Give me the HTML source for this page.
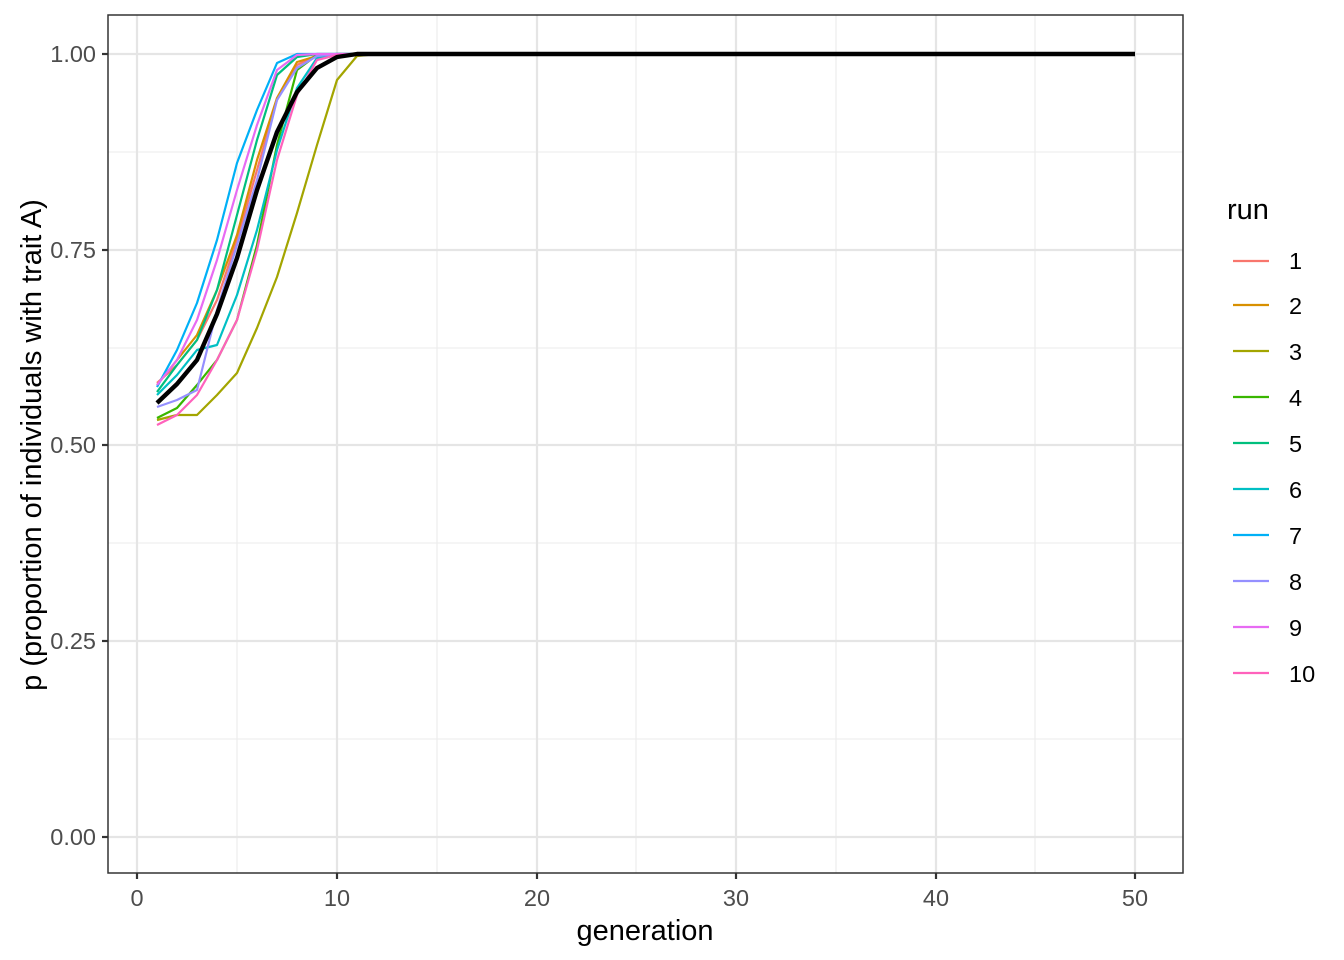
<!DOCTYPE html>
<html><head><meta charset="utf-8"><style>body{margin:0;background:#fff}svg{display:block}text{font-family:"Liberation Sans",sans-serif}</style></head><body>
<svg width="1344" height="960" xmlns="http://www.w3.org/2000/svg">
<rect width="1344" height="960" fill="#fff"/>
<g stroke="#ebebeb" stroke-width="1.1">
<line x1="108" x2="1183" y1="152" y2="152"/><line x1="108" x2="1183" y1="348" y2="348"/><line x1="108" x2="1183" y1="543" y2="543"/><line x1="108" x2="1183" y1="739" y2="739"/>
<line y1="15" y2="873" x1="237" x2="237"/><line y1="15" y2="873" x1="437" x2="437"/><line y1="15" y2="873" x1="636" x2="636"/><line y1="15" y2="873" x1="836" x2="836"/><line y1="15" y2="873" x1="1035" x2="1035"/>
</g>
<g stroke="#e5e5e5" stroke-width="2.2">
<line x1="108" x2="1183" y1="54" y2="54"/><line x1="108" x2="1183" y1="250" y2="250"/><line x1="108" x2="1183" y1="445" y2="445"/><line x1="108" x2="1183" y1="641" y2="641"/><line x1="108" x2="1183" y1="837" y2="837"/>
<line y1="15" y2="873" x1="137" x2="137"/><line y1="15" y2="873" x1="337" x2="337"/><line y1="15" y2="873" x1="537" x2="537"/><line y1="15" y2="873" x1="736" x2="736"/><line y1="15" y2="873" x1="936" x2="936"/><line y1="15" y2="873" x1="1135" x2="1135"/>
</g>
<g fill="none" stroke-width="2.2" stroke-linejoin="round">
<polyline stroke="#F8766D" points="157,383 177,365 197,340 217,300 237,240 257,170 277,100 297,65 317,55 337,54 1135,54"/>
<polyline stroke="#D89000" points="157,385 177,360 197,335 217,290 237,235 257,160 277,98 297,62 317,56 337,54 1135,54"/>
<polyline stroke="#A3A500" points="157,420 177,415 197,415 217,395 237,373 257,328 277,277 297,213 317,145 337,80 357,56 377,54 1135,54"/>
<polyline stroke="#39B600" points="157,418 177,408 197,385 217,360 237,320 257,245 277,145 297,70 317,55 337,54 1135,54"/>
<polyline stroke="#00BF7D" points="157,392 177,365 197,340 217,290 237,215 257,140 277,75 297,57 317,54 1135,54"/>
<polyline stroke="#00BFC4" points="157,395 177,375 197,350 217,345 237,295 257,230 277,150 297,88 317,58 337,54 1135,54"/>
<polyline stroke="#00B0F6" points="157,387 177,350 197,303 217,240 237,163 257,110 277,63 297,54 1135,54"/>
<polyline stroke="#9590FF" points="157,407 177,400 197,390 217,310 237,245 257,180 277,100 297,68 317,56 337,54 1135,54"/>
<polyline stroke="#E76BF3" points="157,385 177,360 197,320 217,260 237,190 257,125 277,70 297,55 317,54 1135,54"/>
<polyline stroke="#FF62BC" points="157,425 177,415 197,395 217,360 237,320 257,250 277,160 297,95 317,60 337,55 357,54 1135,54"/>
<polyline stroke="#000" stroke-width="4.4" points="157,403 177,384 197,360 217,314 237,258 257,190 277,132 297,92 317,68 337,57 357,54 377,54 1135,54"/>
</g>
<rect x="108" y="15" width="1075" height="858" fill="none" stroke="#333" stroke-width="1.5"/>
<g stroke="#333" stroke-width="2.2">
<line x1="102" x2="108" y1="54" y2="54"/><line x1="102" x2="108" y1="250" y2="250"/><line x1="102" x2="108" y1="445" y2="445"/><line x1="102" x2="108" y1="641" y2="641"/><line x1="102" x2="108" y1="837" y2="837"/>
<line y1="873" y2="879" x1="137" x2="137"/><line y1="873" y2="879" x1="337" x2="337"/><line y1="873" y2="879" x1="537" x2="537"/><line y1="873" y2="879" x1="736" x2="736"/><line y1="873" y2="879" x1="936" x2="936"/><line y1="873" y2="879" x1="1135" x2="1135"/>
</g>
<g font-size="23.5" fill="#4d4d4d" text-anchor="end">
<text x="96" y="62">1.00</text><text x="96" y="258">0.75</text><text x="96" y="453">0.50</text><text x="96" y="649">0.25</text><text x="96" y="845">0.00</text>
</g>
<g font-size="23.5" fill="#4d4d4d" text-anchor="middle">
<text x="137" y="906">0</text><text x="337" y="906">10</text><text x="537" y="906">20</text><text x="736" y="906">30</text><text x="936" y="906">40</text><text x="1135" y="906">50</text>
</g>
<text x="645" y="940" font-size="29" text-anchor="middle">generation</text>
<text transform="translate(41,445) rotate(-90)" font-size="29" text-anchor="middle">p (proportion of individuals with trait A)</text>
<text x="1227" y="219" font-size="29">run</text>
<g stroke-width="2.2">
<line x1="1233" x2="1269" y1="261" y2="261" stroke="#F8766D"/>
<line x1="1233" x2="1269" y1="305" y2="305" stroke="#D89000"/>
<line x1="1233" x2="1269" y1="351" y2="351" stroke="#A3A500"/>
<line x1="1233" x2="1269" y1="397" y2="397" stroke="#39B600"/>
<line x1="1233" x2="1269" y1="443" y2="443" stroke="#00BF7D"/>
<line x1="1233" x2="1269" y1="489" y2="489" stroke="#00BFC4"/>
<line x1="1233" x2="1269" y1="535" y2="535" stroke="#00B0F6"/>
<line x1="1233" x2="1269" y1="581" y2="581" stroke="#9590FF"/>
<line x1="1233" x2="1269" y1="627" y2="627" stroke="#E76BF3"/>
<line x1="1233" x2="1269" y1="673" y2="673" stroke="#FF62BC"/>
</g>
<g font-size="23.5">
<text x="1289" y="269">1</text><text x="1289" y="314">2</text><text x="1289" y="360">3</text><text x="1289" y="406">4</text><text x="1289" y="452">5</text><text x="1289" y="498">6</text><text x="1289" y="544">7</text><text x="1289" y="590">8</text><text x="1289" y="636">9</text><text x="1289" y="682">10</text>
</g>
</svg>
</body></html>
